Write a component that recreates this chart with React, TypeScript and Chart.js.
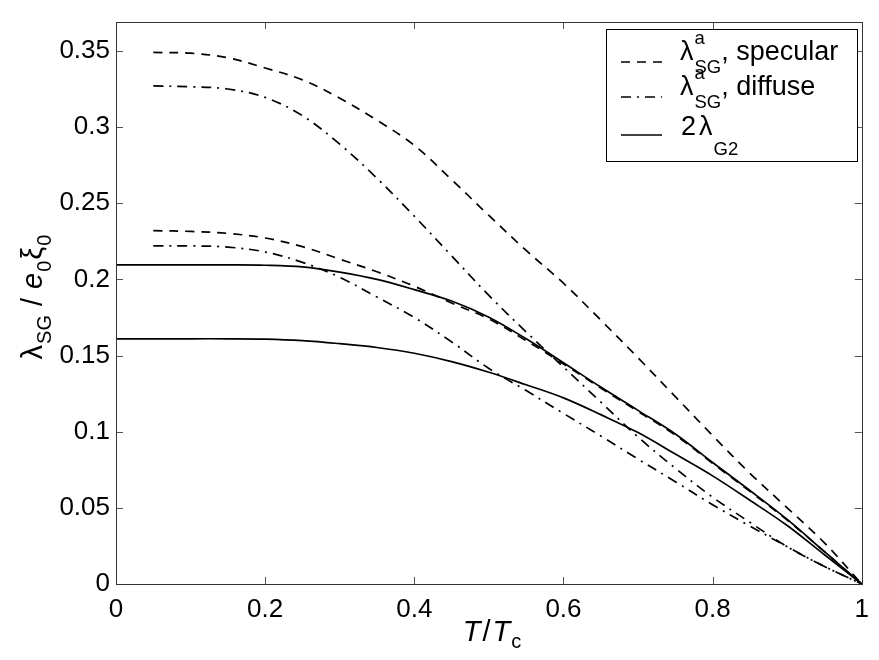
import React, { useEffect, useRef } from "react";
import { Chart, registerables } from "chart.js";

Chart.register(...registerables);

// ---------- data ----------
const tempFromZero = [0, 0.05, 0.1, 0.15, 0.2, 0.25, 0.3, 0.35, 0.4, 0.45, 0.5, 0.55, 0.6, 0.65, 0.7, 0.75, 0.8, 0.85, 0.9, 0.95, 1];
const tempFromLow = [0.05, 0.1, 0.15, 0.2, 0.25, 0.3, 0.35, 0.4, 0.45, 0.5, 0.55, 0.6, 0.65, 0.7, 0.75, 0.8, 0.85, 0.9, 0.95, 1];

const specularUpper = [0.349, 0.3485, 0.3455, 0.3388, 0.331, 0.319, 0.3045, 0.288, 0.2655, 0.242, 0.219, 0.1975, 0.1733, 0.1485, 0.123, 0.0975, 0.0727, 0.05, 0.027, 0];
const diffuseUpper = [0.327, 0.3265, 0.325, 0.3195, 0.3075, 0.2888, 0.2664, 0.2415, 0.2155, 0.1895, 0.1655, 0.1425, 0.1195, 0.0965, 0.076, 0.057, 0.0405, 0.0245, 0.0115, 0];
const specularLower = [0.232, 0.2315, 0.2302, 0.2272, 0.2215, 0.2133, 0.205, 0.1955, 0.1845, 0.174, 0.1598, 0.1445, 0.1287, 0.1133, 0.0978, 0.0792, 0.0608, 0.042, 0.0212, 0];
const diffuseLower = [0.222, 0.222, 0.2212, 0.218, 0.2112, 0.2014, 0.1884, 0.175, 0.159, 0.1415, 0.127, 0.112, 0.0972, 0.082, 0.0672, 0.052, 0.038, 0.0245, 0.0115, 0];
const g2Upper = [0.2095, 0.2095, 0.2095, 0.2095, 0.2093, 0.2082, 0.2048, 0.2, 0.1933, 0.1858, 0.1752, 0.161, 0.1453, 0.1293, 0.114, 0.0985, 0.0798, 0.0614, 0.0424, 0.0212, 0];
const g2Lower = [0.161, 0.161, 0.161, 0.161, 0.1608, 0.1598, 0.1578, 0.1553, 0.1515, 0.146, 0.139, 0.1308, 0.1222, 0.1112, 0.0994, 0.0853, 0.071, 0.055, 0.0384, 0.0192, 0];

const xTicks = [0, 0.2, 0.4, 0.6, 0.8, 1];
const yTicks = [0, 0.05, 0.1, 0.15, 0.2, 0.25, 0.3, 0.35];
const xMin = 0;
const xMax = 1;
const yMin = 0;
const yMax = 0.369;

const DASHED = [9, 7];
const DASHDOT = [10, 6, 2, 6];
const SOLID: number[] = [];

const FONT = '"Liberation Sans", Arial, Helvetica, sans-serif';

type Seg = { t: string; size: number; dy?: number; italic?: boolean; gap?: number; noAdvance?: boolean };

function fontOf(s: Seg) {
  return `${s.italic ? "italic " : ""}${s.size}px ${FONT}`;
}

function richWidth(ctx: CanvasRenderingContext2D, segs: Seg[]) {
  let w = 0;
  for (const s of segs) {
    ctx.font = fontOf(s);
    if (!s.noAdvance) w += ctx.measureText(s.t).width + (s.gap || 0);
  }
  return w;
}

function drawRich(ctx: CanvasRenderingContext2D, segs: Seg[], x: number, y: number) {
  let cx = x;
  for (const s of segs) {
    ctx.font = fontOf(s);
    ctx.fillText(s.t, cx, y + (s.dy || 0));
    if (!s.noAdvance) cx += ctx.measureText(s.t).width + (s.gap || 0);
  }
  return cx;
}

const series = (xs: number[], ys: number[]) => xs.map((x, i) => ({ x, y: ys[i] }));

const mkDataset = (label: string, xs: number[], ys: number[], dash: number[]) => ({
  label,
  data: series(xs, ys),
  borderColor: "#000",
  backgroundColor: "#000",
  borderWidth: 1.7,
  borderDash: dash,
  pointRadius: 0,
  fill: false,
  tension: 0.35,
});

const framePlugin = {
  id: "frameTicks",
  afterDatasetsDraw(chart: any) {
    const { ctx, chartArea: a, scales } = chart;
    ctx.save();
    ctx.lineWidth = 1;
    ctx.strokeStyle = "#555";
    ctx.setLineDash([]);
    const L = 7;
    ctx.beginPath();
    for (const v of xTicks) {
      const px = Math.round(scales.x.getPixelForValue(v)) + 0.5;
      ctx.moveTo(px, a.bottom);
      ctx.lineTo(px, a.bottom - L);
      ctx.moveTo(px, a.top);
      ctx.lineTo(px, a.top + L);
    }
    for (const v of yTicks) {
      const py = Math.round(scales.y.getPixelForValue(v)) + 0.5;
      ctx.moveTo(a.left, py);
      ctx.lineTo(a.left + L, py);
      ctx.moveTo(a.right, py);
      ctx.lineTo(a.right - L, py);
    }
    ctx.stroke();
    ctx.strokeStyle = "#333";
    ctx.strokeRect(Math.round(a.left) + 0.5, Math.round(a.top) + 0.5, Math.round(a.right - a.left), Math.round(a.bottom - a.top));
    ctx.restore();
  },
};

const annotationPlugin = {
  id: "richText",
  afterDraw(chart: any) {
    const ctx: CanvasRenderingContext2D = chart.ctx;
    const a = chart.chartArea;
    ctx.save();
    ctx.fillStyle = "#000";
    ctx.textBaseline = "alphabetic";
    ctx.textAlign = "left";

    // ---- legend ----
    const bx = 606.5, by = 29.5, bw = 251, bh = 132;
    ctx.fillStyle = "#fff";
    ctx.fillRect(bx, by, bw, bh);
    ctx.strokeStyle = "#000";
    ctx.lineWidth = 1;
    ctx.setLineDash([]);
    ctx.strokeRect(bx, by, bw, bh);
    ctx.fillStyle = "#000";

    const big = 27;
    const small = 18.5;
    const rows = [
      { y: 62, dash: chart.data.datasets[0].borderDash, label: "specular" },
      { y: 97, dash: chart.data.datasets[1].borderDash, label: "diffuse" },
      { y: 135, dash: chart.data.datasets[4].borderDash, label: "" },
    ];
    rows.forEach((r, i) => {
      ctx.save();
      ctx.strokeStyle = "#000";
      ctx.lineWidth = 1.7;
      ctx.setLineDash(r.dash);
      ctx.beginPath();
      ctx.moveTo(621, r.y);
      ctx.lineTo(662, r.y);
      ctx.stroke();
      ctx.restore();
      if (i < 2) {
        drawRich(ctx, [
          { t: "λ", size: big, gap: 1 },
          { t: "a", size: small, dy: -16, noAdvance: true },
          { t: "SG", size: small, dy: 13 },
          { t: ", " + r.label, size: big },
        ], 680, r.y - 2);
      } else {
        drawRich(ctx, [
          { t: "2", size: big, gap: 3 },
          { t: "λ", size: big, gap: 1 },
          { t: "G2", size: small, dy: 20 },
        ], 681, r.y);
      }
    });

    // ---- x title ----
    const xSegs: Seg[] = [
      { t: "T", size: 29, italic: true, gap: 2 },
      { t: "/", size: 29, gap: 2 },
      { t: "T", size: 29, italic: true, gap: 1 },
      { t: "c", size: 20, dy: 7 },
    ];
    const xw = richWidth(ctx, xSegs);
    drawRich(ctx, xSegs, 492 - xw / 2, 641);

    // ---- y title ----
    const ySegs: Seg[] = [
      { t: "λ", size: 29, gap: 1 },
      { t: "SG", size: 20, dy: 9, gap: 9 },
      { t: "/", size: 29, gap: 9 },
      { t: "e", size: 29, italic: true, gap: 1 },
      { t: "0", size: 20, dy: 9, gap: 1 },
      { t: "ξ", size: 29, gap: 1 },
      { t: "0", size: 20, dy: 9 },
    ];
    const yw = richWidth(ctx, ySegs);
    ctx.translate(42, 297);
    ctx.rotate(-Math.PI / 2);
    drawRich(ctx, ySegs, -yw / 2, 0);
    ctx.restore();
  },
};

const fmt = (v: number) => String(+v.toFixed(2));

export default function App() {
  const ref = useRef<HTMLCanvasElement>(null);
  useEffect(() => {
    if (!ref.current) return;
    const chart = new Chart(ref.current, {
      type: "line",
      data: {
        datasets: [
          mkDataset("specular upper", tempFromLow, specularUpper, DASHED),
          mkDataset("diffuse upper", tempFromLow, diffuseUpper, DASHDOT),
          mkDataset("specular lower", tempFromLow, specularLower, DASHED),
          mkDataset("diffuse lower", tempFromLow, diffuseLower, DASHDOT),
          mkDataset("2 lambda G2 upper", tempFromZero, g2Upper, SOLID),
          mkDataset("2 lambda G2 lower", tempFromZero, g2Lower, SOLID),
        ] as any,
      },
      options: {
        responsive: false,
        animation: false,
        devicePixelRatio: 1,
        layout: { padding: { left: 0, top: 22, right: 13, bottom: 0 } },
        plugins: { legend: { display: false }, tooltip: { enabled: false }, title: { display: false } },
        scales: {
          x: {
            type: "linear",
            min: xMin,
            max: xMax,
            grid: { display: false, drawTicks: false },
            border: { display: false },
            ticks: {
              padding: 10,
              color: "#000",
              font: { family: FONT, size: 26 },
              callback: (v: any) => fmt(Number(v)),
              maxRotation: 0,
            },
            afterBuildTicks: (s: any) => { s.ticks = xTicks.map((value) => ({ value })); },
            afterFit: (s: any) => { s.height = 76; },
          },
          y: {
            type: "linear",
            min: yMin,
            max: yMax,
            grid: { display: false, drawTicks: false },
            border: { display: false },
            ticks: {
              padding: 6,
              color: "#000",
              font: { family: FONT, size: 26 },
              callback: (v: any) => fmt(Number(v)),
            },
            afterBuildTicks: (s: any) => { s.ticks = yTicks.map((value) => ({ value })); },
            afterFit: (s: any) => { s.width = 116; },
          },
        },
      } as any,
      plugins: [framePlugin, annotationPlugin],
    });
    return () => chart.destroy();
  }, []);
  return (
    <div style={{ position: "absolute", left: 0, top: 0, width: 879, height: 660, background: "#fff" }}>
      <canvas ref={ref} width={879} height={660} style={{ width: 879, height: 660, display: "block" }} />
    </div>
  );
}
